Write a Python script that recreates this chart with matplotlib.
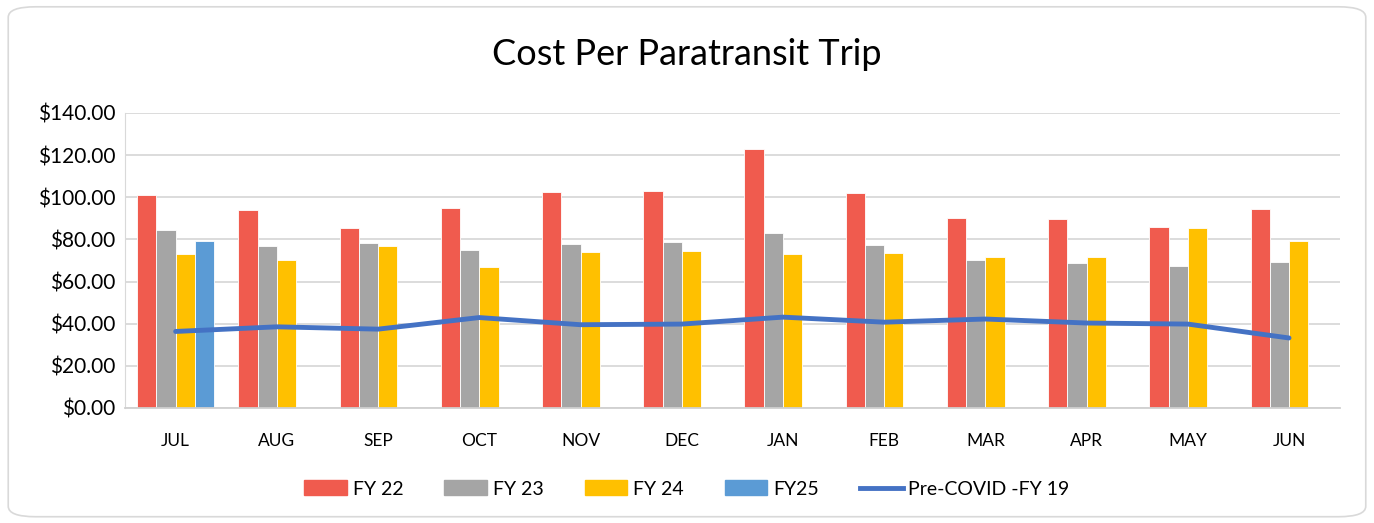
import matplotlib.pyplot as plt
import numpy as np
from matplotlib.patches import FancyBboxPatch, Patch
from matplotlib.lines import Line2D

months = ["JUL", "AUG", "SEP", "OCT", "NOV", "DEC", "JAN", "FEB", "MAR", "APR", "MAY", "JUN"]
fy22 = [100.9, 93.8, 85.4, 94.7, 102.6, 102.8, 122.7, 102.1, 90.0, 89.5, 85.9, 94.3]
fy23 = [84.6, 77.0, 78.2, 74.8, 77.7, 78.8, 83.2, 77.2, 70.3, 69.0, 67.4, 69.3]
fy24 = [73.2, 70.1, 76.7, 67.1, 74.2, 74.4, 73.1, 73.4, 71.7, 71.5, 85.4, 79.1]
fy25 = [79.2]
fy19 = [36.3, 38.5, 37.4, 42.9, 39.5, 39.8, 43.1, 40.7, 42.2, 40.3, 39.8, 33.2]

plt.rcParams['font.family'] = ['Lato', 'DejaVu Sans']

fig = plt.figure(figsize=(13.74, 5.23), dpi=100)
border = FancyBboxPatch((0.006, 0.012), 0.988, 0.975, boxstyle="round,pad=0,rounding_size=0.02",
                        transform=fig.transFigure, facecolor='white', edgecolor='#d9d9d9', linewidth=1.2, zorder=-10)
fig.patches.append(border)
ax = fig.add_axes([0.091, 0.22, 0.884, 0.564])
ax.set_facecolor('none')

x = np.arange(len(months))
w = 0.19
colors = ['#F05B4E', '#A5A5A5', '#FFC000', '#5B9BD5']
series = [fy22, fy23, fy24, fy25]
for i, (s, c) in enumerate(zip(series, colors)):
	ax.bar(x[:len(s)] + (i - 1.5) * w, s, w, color=c, edgecolor='white', linewidth=0.6, zorder=2)

ax.plot(x, fy19, color='#4472C4', linewidth=3.5, zorder=3, solid_capstyle='round')

ax.set_xlim(-0.5, 11.5)
ax.set_ylim(0, 140)
ax.set_yticks(np.arange(0, 141, 20))
ax.set_yticklabels(["$%.2f" % v for v in np.arange(0, 141, 20)], fontsize=15)
ax.set_xticks(x)
ax.set_xticklabels(months, fontsize=12.5)
ax.tick_params(axis='both', length=0, colors='#000000')
ax.tick_params(axis='x', pad=18)
ax.tick_params(axis='y', pad=7)
ax.grid(axis='y', color='#d9d9d9', linewidth=1.3, zorder=0)
for sp in ['top', 'right']:
	ax.spines[sp].set_visible(False)
ax.spines['left'].set_color('#d9d9d9')
ax.spines['bottom'].set_color('#d0d0d0')
ax.spines['bottom'].set_linewidth(1.3)

fig.text(0.5, 0.895, "Cost Per Paratransit Trip", ha='center', va='center', fontsize=26)

handles = [Patch(color=c) for c in colors] + [Line2D([0], [0], color='#4472C4', linewidth=3.5)]
labels = ["FY 22", "FY 23", "FY 24", "FY25", "Pre-COVID -FY 19"]
fig.legend(handles, labels, loc='center', bbox_to_anchor=(0.5, 0.065), ncol=5, frameon=False,
           fontsize=14, handlelength=2.2, handleheight=0.8, columnspacing=2.1, handletextpad=0.3)

fig.savefig("out.png", dpi=100)
